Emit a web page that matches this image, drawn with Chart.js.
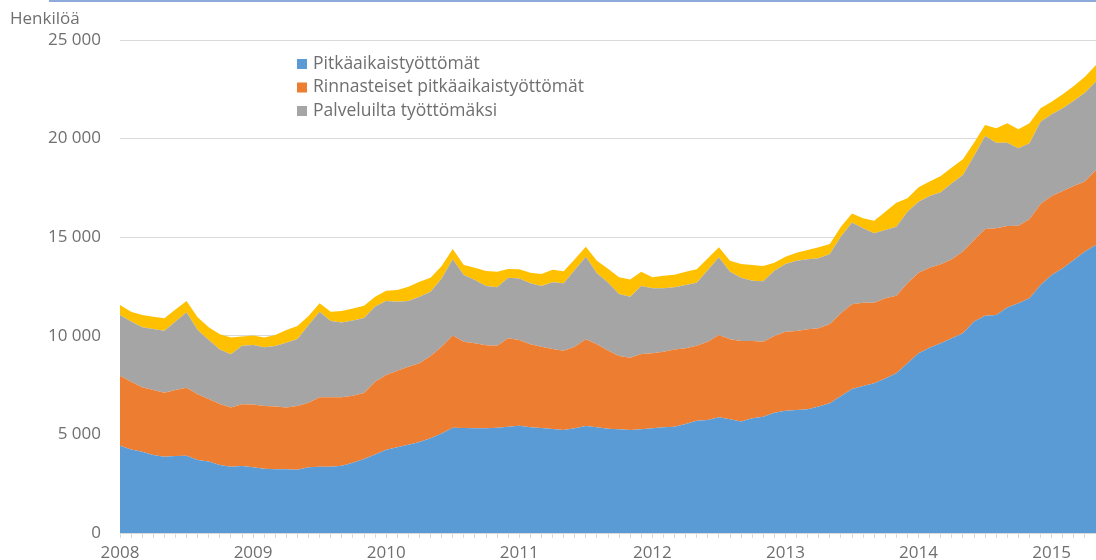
<!DOCTYPE html>
<html lang="fi">
<head>
<meta charset="utf-8">
<title>Pitkäaikaistyöttömät</title>
<script src="https://cdn.jsdelivr.net/npm/chart.js@4.4.1/dist/chart.umd.min.js"></script>
<style>
  html, body { margin: 0; padding: 0; background: #fff; overflow: hidden; }
  #wrap { position: relative; width: 1096px; height: 560px; }
  #topline { position: absolute; left: 49px; top: 0; width: 1047px; height: 2px; background: #8eaadb; }
</style>
</head>
<body>
<div id="wrap">
  <canvas id="chart" width="1096" height="560"></canvas>
  <div id="topline"></div>
</div>
<script>
// data, monthly 2008-01 .. 2015-05
const years = ['2008', '2009', '2010', '2011', '2012', '2013', '2014', '2015'];
const lastMonth = 5;

const pitkaaikais = [
  4430, 4240, 4120, 3960, 3870, 3900, 3920, 3700, 3620, 3450, 3360, 3400,
  3330, 3260, 3230, 3230, 3210, 3330, 3360, 3360, 3410, 3560, 3750, 3980,
  4220, 4350, 4480, 4620, 4800, 5050, 5340, 5320, 5310, 5310, 5340, 5390,
  5440, 5360, 5320, 5270, 5220, 5310, 5430, 5360, 5290, 5260, 5220, 5260,
  5310, 5360, 5390, 5530, 5690, 5730, 5870, 5770, 5650, 5820, 5900, 6100,
  6200, 6240, 6270, 6410, 6580, 6950, 7300, 7450, 7590, 7840, 8100, 8610,
  9110, 9400, 9620, 9870, 10130, 10720, 11020, 11050, 11440, 11650, 11900, 12580,
  13080, 13420, 13840, 14270, 14600
];
const rinnasteiset = [
  3550, 3430, 3270, 3290, 3240, 3350, 3450, 3330, 3180, 3090, 3010, 3130,
  3180, 3180, 3180, 3130, 3230, 3280, 3520, 3520, 3470, 3400, 3350, 3690,
  3790, 3880, 3950, 3990, 4180, 4400, 4670, 4380, 4310, 4210, 4160, 4480,
  4350, 4210, 4130, 4060, 4020, 4140, 4390, 4210, 3970, 3720, 3670, 3820,
  3800, 3830, 3920, 3840, 3810, 3970, 4170, 4050, 4090, 3920, 3800, 3890,
  4010, 4000, 4060, 3970, 4020, 4190, 4300, 4230, 4090, 4060, 3930, 4050,
  4090, 4050, 4010, 4010, 4140, 4140, 4400, 4400, 4130, 3930, 4010, 4100,
  4010, 3920, 3760, 3550, 3810
];
const palveluilta = [
  3070, 3050, 3040, 3090, 3140, 3470, 3820, 3260, 2990, 2770, 2690, 2970,
  3020, 2980, 3070, 3290, 3400, 3940, 4340, 3870, 3800, 3810, 3800, 3810,
  3750, 3500, 3330, 3370, 3260, 3460, 3870, 3380, 3210, 3010, 2960, 3080,
  3120, 3090, 3080, 3380, 3420, 3890, 4190, 3600, 3440, 3140, 3090, 3450,
  3300, 3220, 3150, 3210, 3190, 3640, 3940, 3430, 3210, 3050, 3060, 3310,
  3430, 3570, 3550, 3550, 3550, 3890, 4140, 3770, 3520, 3470, 3500, 3630,
  3600, 3640, 3650, 3850, 3880, 4260, 4710, 4340, 4220, 3930, 3850, 4180,
  4140, 4200, 4320, 4510, 4480
];
// fourth series, not in the legend
const muut = [
  510, 500, 620, 630, 640, 610, 570, 650, 640, 770, 850, 460,
  480, 500, 560, 640, 660, 450, 430, 470, 580, 620, 620, 500,
  530, 590, 730, 760, 710, 630, 520, 510, 620, 760, 790, 440,
  460, 540, 600, 640, 610, 540, 510, 640, 700, 850, 880, 720,
  560, 640, 640, 670, 680, 590, 510, 560, 690, 800, 780, 410,
  370, 400, 470, 560, 510, 500, 460, 510, 640, 920, 1220, 680,
  730, 730, 820, 810, 800, 670, 560, 730, 990, 960, 1020, 680,
  640, 710, 750, 810, 840
];

const yTicks = [0, 5000, 10000, 15000, 20000, 25000];
const yTitle = 'Henkilöä';
const textColor = '#6f6f6f';
const font = '"Open Sans", "DejaVu Sans", sans-serif';

const months = [];
years.forEach((y, i) => {
  const n = i === years.length - 1 ? lastMonth : 12;
  for (let m = 1; m <= n; m++) months.push(y + '-' + String(m).padStart(2, '0'));
});

function fmt(v) {
  return String(v).replace(/\B(?=(\d{3})+(?!\d))/g, ' ');
}

function area(label, data, color, fill) {
  return {
    label: label,
    data: data,
    backgroundColor: color,
    borderColor: color,
    borderWidth: 0,
    pointRadius: 0,
    tension: 0,
    fill: fill
  };
}

// y title + legend drawn by hand (legend sits inside the plot)
const extras = {
  id: 'extras',
  afterDraw(chart) {
    const ctx = chart.ctx;
    ctx.save();
    ctx.textBaseline = 'middle';
    ctx.font = '17px ' + font;
    ctx.fillStyle = textColor;
    ctx.fillText(yTitle, 10, 19);
    ctx.font = '17.5px ' + font;
    chart.data.datasets.slice(0, 3).forEach((ds, i) => {
      const y = 64 + i * 23.5;
      ctx.fillStyle = ds.backgroundColor;
      ctx.fillRect(297, y - 5, 10, 10);
      ctx.fillStyle = textColor;
      ctx.fillText(ds.label, 313, y);
    });
    ctx.restore();
  }
};

new Chart(document.getElementById('chart'), {
  type: 'line',
  data: {
    labels: months,
    datasets: [
      area('Pitkäaikaistyöttömät', pitkaaikais, '#5b9bd5', 'origin'),
      area('Rinnasteiset pitkäaikaistyöttömät', rinnasteiset, '#ed7d31', '-1'),
      area('Palveluilta työttömäksi', palveluilta, '#a5a5a5', '-1'),
      area('', muut, '#ffc000', '-1')
    ]
  },
  options: {
    responsive: false,
    animation: false,
    events: [],
    layout: { padding: { top: 40, right: 0, bottom: 0, left: 0 } },
    plugins: {
      legend: { display: false },
      tooltip: { enabled: false }
    },
    scales: {
      x: {
        offset: false,
        grid: {
          display: true,
          drawOnChartArea: false,
          drawTicks: true,
          tickLength: 5,
          color: '#d9d9d9'
        },
        border: { display: true, color: '#d9d9d9', width: 1 },
        ticks: {
          autoSkip: false,
          maxRotation: 0,
          minRotation: 0,
          padding: 5,
          color: textColor,
          font: { family: font, size: 17 },
          callback: (v, i) => (i % 12 === 0 ? months[i].slice(0, 4) : '')
        },
        afterFit: (s) => {
          s.height = 27;
          s.paddingLeft = 0;
          s.paddingRight = 0;
        }
      },
      y: {
        stacked: true,
        min: 0,
        max: 25000,
        afterBuildTicks: (s) => { s.ticks = yTicks.map(v => ({ value: v })); },
        grid: { color: '#d9d9d9', drawTicks: false },
        border: { display: false },
        ticks: {
          padding: 19,
          color: textColor,
          font: { family: font, size: 17 },
          callback: (v) => fmt(v)
        },
        afterFit: (s) => {
          s.width = 120;
          s.paddingTop = 0;
          s.paddingBottom = 0;
        }
      }
    }
  },
  plugins: [extras]
});
</script>
</body>
</html>
